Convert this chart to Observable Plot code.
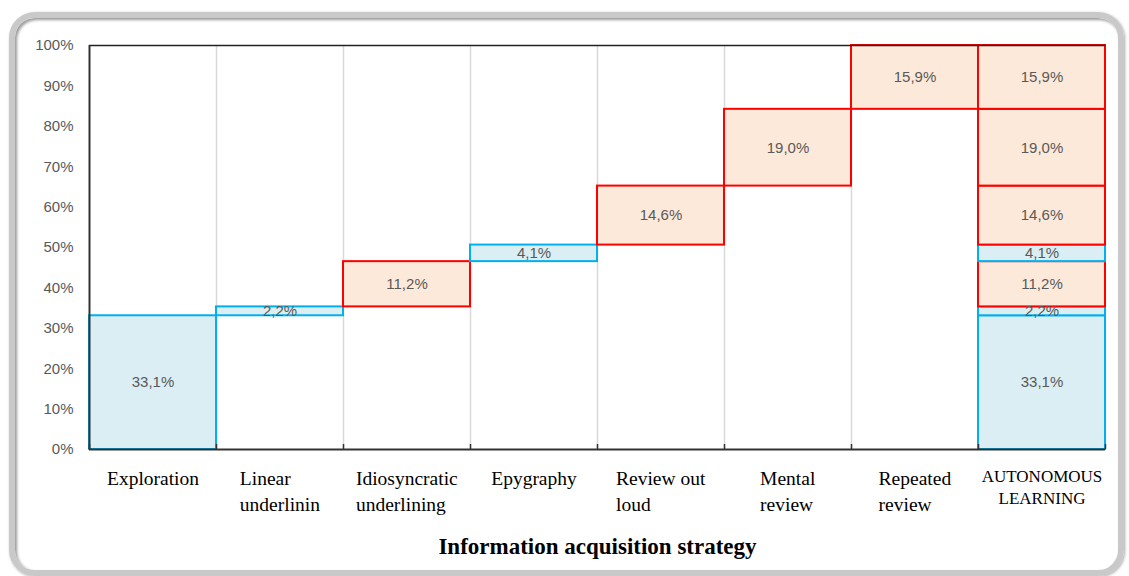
<!DOCTYPE html>
<html><head><meta charset="utf-8">
<script src="https://cdn.jsdelivr.net/npm/d3@7"></script>
<script src="https://cdn.jsdelivr.net/npm/@observablehq/plot@0.6"></script>
<style>
body{margin:0;background:#fff;}
#wrap{position:relative;width:1129px;height:576px;overflow:hidden;background:#fff;}
#frame{position:absolute;left:9px;top:12px;width:1103px;height:552px;border:6px solid #c9c9c9;border-radius:26px;box-shadow:inset 2px 2px 3px #9a9a9a, 1px 1px 3px #aaa;}
#chart{position:absolute;left:0;top:0;}
</style></head>
<body><div id="wrap"><div id="frame"></div><div id="chart"></div></div>
<script>
const categoryLabels = ["Exploration","Linear\nunderlinin","Idiosyncratic\nunderlining","Epygraphy","Review out\nloud","Mental\nreview","Repeated\nreview","AUTONOMOUS\nLEARNING"];
const values = [33.1, 2.2, 11.2, 4.1, 14.6, 19.0, 15.9];
const valueLabels = ["33,1%","2,2%","11,2%","4,1%","14,6%","19,0%","15,9%"];
const kinds = ["blue","blue","red","blue","red","red","red"];
const yTicks = [0,10,20,30,40,50,60,70,80,90,100];
const axisTitle = "Information acquisition strategy";

const fillColor = {blue: "#daeef3", red: "#fde9d9"};
const strokeColor = {blue: "#00b0f0", red: "#ff0000"};

const totalCol = categoryLabels.length - 1;
const rows = [];
let acc = 0;
values.forEach((v, i) => {
  const y1 = acc, y2 = acc + v;
  rows.push({c: i, y1, y2, label: valueLabels[i], kind: kinds[i]});
  rows.push({c: totalCol, y1, y2, label: valueLabels[i], kind: kinds[i]});
  acc = y2;
});

const plot = Plot.plot({
  width: 1129, height: 576,
  marginLeft: 89, marginRight: 24, marginTop: 45, marginBottom: 127,
  x: {domain: [0, categoryLabels.length], axis: null},
  y: {domain: [0, 100], clamp: true, axis: null},
  style: {background: "transparent", overflow: "visible"},
  marks: [
    Plot.ruleX(d3.range(1, categoryLabels.length), {stroke: "#d9d9d9", strokeWidth: 1.5}),
    Plot.rectY(rows, {
      x1: "c", x2: d => d.c + 1, y1: "y1", y2: "y2",
      fill: d => fillColor[d.kind], stroke: d => strokeColor[d.kind], strokeWidth: 2
    }),
    Plot.ruleY([100], {stroke: "#222", strokeWidth: 1.5}),
    Plot.ruleY([0], {stroke: "#333", strokeWidth: 2}),
    Plot.ruleX([0], {stroke: "#333", strokeWidth: 2}),
    Plot.ruleX(d3.range(0, categoryLabels.length + 1), {y1: 0, y2: 0, insetTop: -5, stroke: "#333", strokeWidth: 1.5}),
    Plot.text(rows, {
      x: d => d.c + 0.5, y: d => (d.y1 + d.y2) / 2, text: "label",
      fill: "#595959", fontSize: 15, fontFamily: "Liberation Sans, Arial, sans-serif"
    }),
    Plot.axisY(yTicks, {
      tickFormat: d => d + "%", tickSize: 0, tickPadding: 16, label: null,
      fill: "#595959", fontSize: 15, fontFamily: "Liberation Sans, Arial, sans-serif"
    }),
    Plot.text(categoryLabels.slice(0, totalCol), {
      x: (d, i) => i + 0.5, frameAnchor: "bottom", lineAnchor: "top", dy: 17,
      fontSize: 19.5, lineHeight: 1.33, fill: "#000", fontFamily: "Liberation Serif, Times New Roman, serif",
      className: "catlab"
    }),
    Plot.text([categoryLabels[totalCol]], {
      x: totalCol + 0.5, frameAnchor: "bottom", lineAnchor: "top", dy: 17,
      fontSize: 17, lineHeight: 1.3, fill: "#000", fontFamily: "Liberation Serif, Times New Roman, serif"
    }),
    Plot.text([axisTitle], {
      frameAnchor: "bottom", dy: 104, fontWeight: "bold", fontSize: 23, fill: "#000",
      fontFamily: "Liberation Serif, Times New Roman, serif"
    })
  ]
});
document.getElementById("chart").appendChild(plot);

// left-align multi-line category labels as a block centred in the band
plot.querySelectorAll(".catlab text").forEach(t => {
  const spans = t.querySelectorAll("tspan");
  if (spans.length < 2) return;
  const w = t.getBBox().width;
  t.setAttribute("text-anchor", "start");
  spans.forEach(s => s.setAttribute("x", -w / 2));
});
</script>
</body></html>
